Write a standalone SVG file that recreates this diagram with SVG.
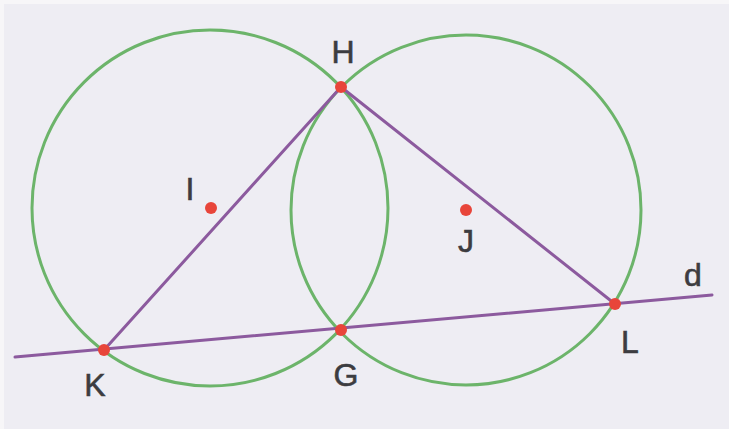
<svg xmlns="http://www.w3.org/2000/svg" width="729" height="429" viewBox="0 0 729 429">
<style>
.c{fill:none;stroke:#6cb46a;stroke-width:3}
.s{stroke:#8c5a9e;stroke-width:3;stroke-linecap:round}
.p{fill:#e8453a}
.t{font-family:"Liberation Sans",Arial,sans-serif;font-size:32px;fill:#3c3c40;stroke:#3c3c40;stroke-width:0.6;text-anchor:middle}
</style>
<rect x="0" y="0" width="729" height="429" fill="#f7f6f8"/>
<rect x="4" y="4" width="725" height="425" fill="#eeedf3"/>
<g id="circleI"><circle class="c" cx="210" cy="208" r="178"/></g>
<g id="circleJ"><circle class="c" cx="466" cy="210" r="175"/></g>
<g id="connectors">
<line class="s" x1="15" y1="357" x2="712" y2="295"/>
<line class="s" x1="104" y1="350" x2="341" y2="87"/>
<line class="s" x1="341" y1="87" x2="615" y2="304"/>
</g>
<g id="H"><circle class="p" cx="341" cy="87" r="6"/><text class="t" x="343" y="63">H</text></g>
<g id="K"><circle class="p" cx="104" cy="350" r="6"/><text class="t" x="95" y="396">K</text></g>
<g id="G"><circle class="p" cx="341" cy="330" r="6"/><text class="t" x="346" y="386">G</text></g>
<g id="L"><circle class="p" cx="615" cy="304" r="6"/><text class="t" x="630" y="353">L</text></g>
<g id="I"><circle class="p" cx="211" cy="208" r="6"/><text class="t" x="190" y="200">I</text></g>
<g id="J"><circle class="p" cx="466" cy="210" r="6"/><text class="t" x="466" y="252">J</text></g>
<g id="d"><text class="t" x="693" y="286">d</text></g>
</svg>
